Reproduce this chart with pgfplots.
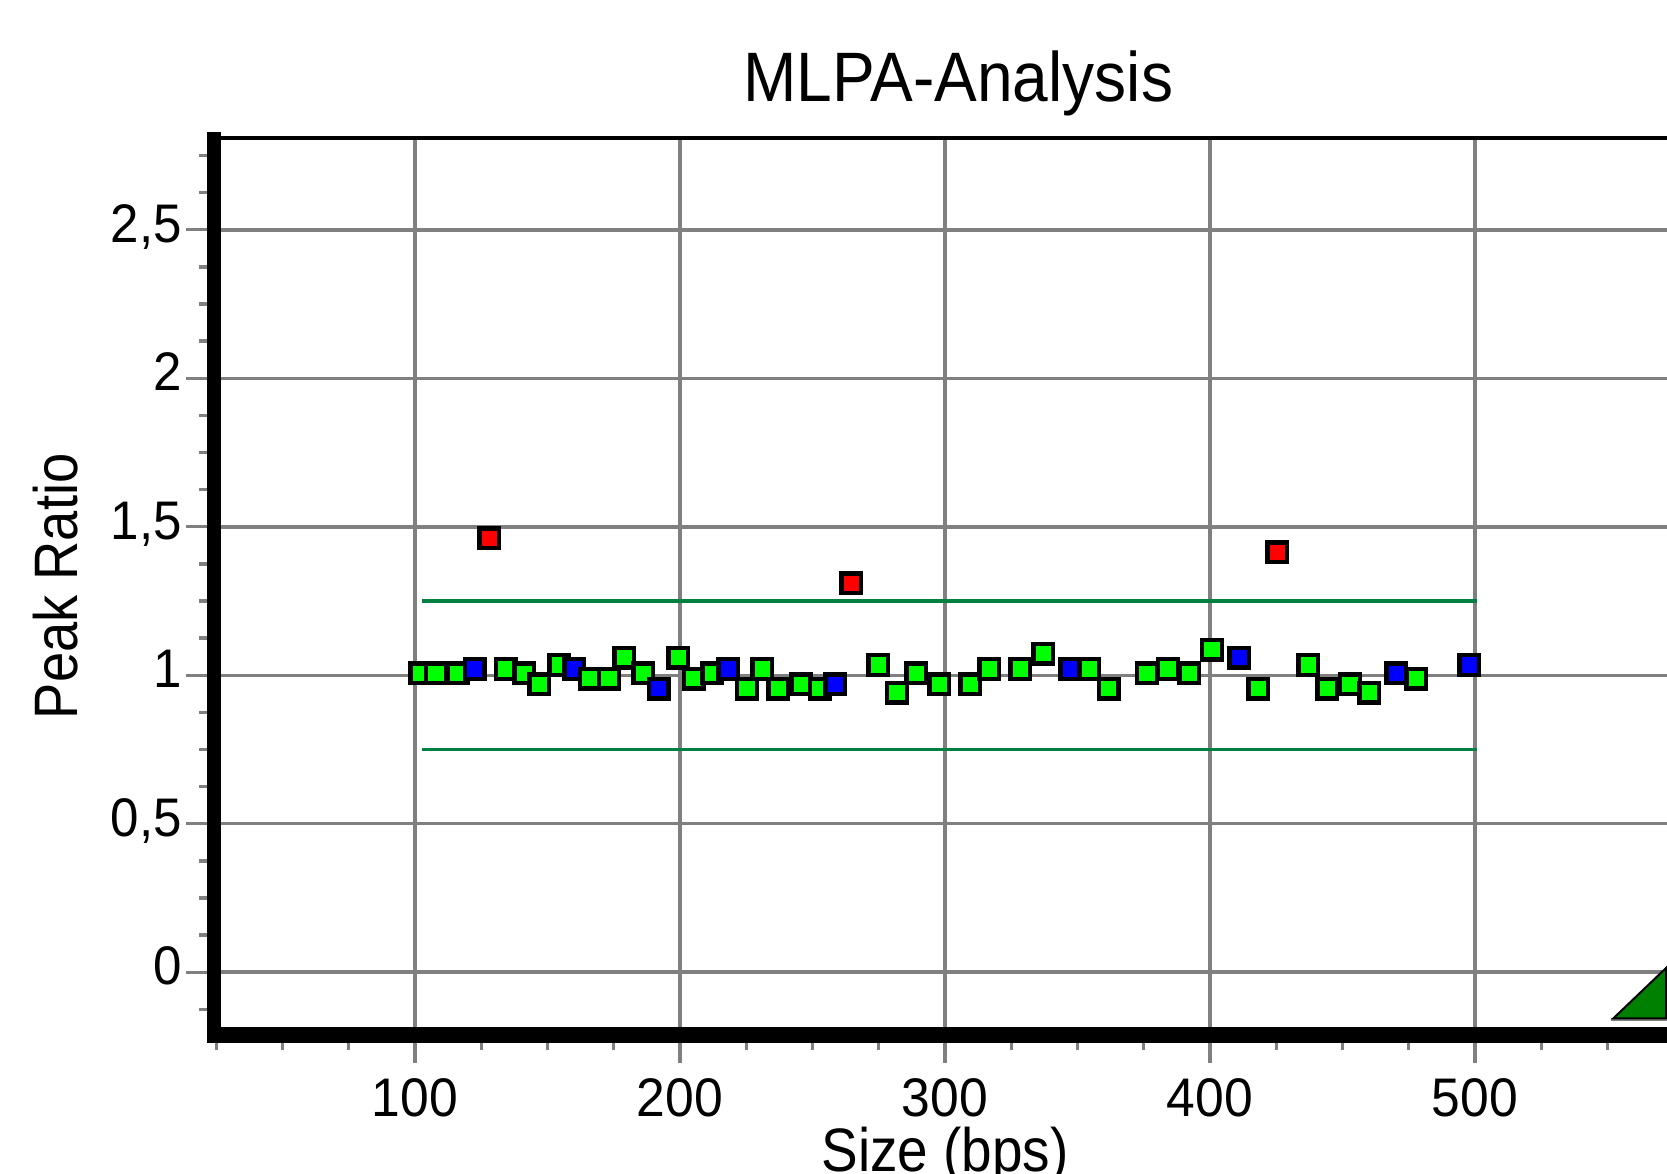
\documentclass[border=0pt]{standalone}
\usepackage{fontspec}
\setmainfont{Liberation Sans}
\usepackage{graphicx}
\usepackage{pgfplots}
\pgfplotsset{compat=1.18}
\definecolor{mgreen}{RGB}{0,255,0}
\definecolor{mblue}{RGB}{0,0,255}
\definecolor{mred}{RGB}{255,0,0}
\definecolor{thr}{RGB}{0,128,64}
\definecolor{tri}{RGB}{0,128,0}
\begin{document}
\begin{tikzpicture}[x=1pt,y=1pt]
\begin{axis}[
  name=ax, at={(64.2pt,41.4pt)}, anchor=south west,
  scale only axis, width=439.8pt, height=269.1pt,
  xmin=24.15, xmax=577.36, ymin=-0.2114, ymax=2.809,
  axis line style={draw=none},
  xtick={100,200,300,400,500},
  ytick={0,0.5,1,1.5,2,2.5},
  minor xtick={25,50,75,125,150,175,225,250,275,325,350,375,425,450,475,525,550,575},
  minor ytick={-0.125,0.125,0.25,0.375,0.625,0.75,0.875,1.125,1.25,1.375,1.625,1.75,1.875,2.125,2.25,2.375,2.625,2.75},
  tick pos=left, tick align=outside,
  major tick length=8.3pt, minor tick length=4.6pt,
  tick style={gray, line width=1pt},
  grid=major, major grid style={gray, line width=1.05pt},
  xticklabel={\scalebox{0.95}[1]{\pgfmathprintnumber[assume math mode=true]{\tick}}},
  yticklabel={\scalebox{0.94}[1]{\pgfmathprintnumber[assume math mode=true,use comma]{\tick}}},
  ticklabel style={font=\fontsize{16.3}{18}\selectfont, inner sep=0pt},
  xticklabel style={anchor=base, yshift=-16.0pt},
  yticklabel style={anchor=base east, xshift=-1.1pt, yshift=-3.75pt},
  clip=false,
]
\addplot[thr, line width=1pt, forget plot] coordinates {(102.6,1.25) (500.8,1.25)};
\addplot[thr, line width=1pt, forget plot] coordinates {(102.6,0.75) (500.8,0.75)};
\addplot[scatter, only marks, mark=square*, mark size=2.95pt,
  point meta=explicit symbolic,
  scatter/classes={
    g={mark=square*, draw=black, fill=mgreen, line width=1.3pt},
    b={mark=square*, draw=black, fill=mblue, line width=1.3pt},
    r={mark=square*, draw=black, fill=mred, line width=1.3pt}}]
table[meta=c] {
x y c
102.0 1.007 g
107.9 1.007 g
116.1 1.007 g
122.5 1.021 b
128.0 1.461 r
134.2 1.021 g
141.3 1.007 g
146.9 0.969 g
154.5 1.035 g
160.1 1.021 b
166.0 0.989 g
173.2 0.989 g
179.0 1.059 g
186.2 1.007 g
192.0 0.955 b
199.4 1.059 g
205.2 0.989 g
212.2 1.007 g
218.2 1.021 b
225.3 0.955 g
231.1 1.021 g
237.1 0.955 g
245.8 0.969 g
252.8 0.955 g
258.6 0.969 b
264.6 1.310 r
274.8 1.035 g
281.9 0.941 g
289.2 1.007 g
297.9 0.969 g
309.6 0.969 g
316.7 1.021 g
328.4 1.021 g
337.1 1.073 g
347.3 1.021 b
354.5 1.021 g
361.8 0.955 g
376.2 1.007 g
384.2 1.021 g
392.2 1.007 g
400.8 1.086 g
411.1 1.059 b
418.2 0.955 g
425.4 1.414 r
437.1 1.035 g
444.3 0.955 g
452.8 0.969 g
460.1 0.941 g
470.3 1.007 b
477.8 0.989 g
497.9 1.035 b
};
\end{axis}
\draw[line width=4.2pt] ([yshift=-2.4pt]ax.south west) -- ([yshift=1.8pt]ax.north west);
\draw[line width=4.8pt] ([xshift=-2.1pt]ax.south west) -- (ax.south east);
\draw[line width=1.2pt] (ax.north west) -- (ax.north east);
\draw[gray, line width=1pt] (483.3,46.0) -- (500.1,46.0);
\filldraw[fill=tri, draw=black, line width=0.6pt] (484.0,46.4) -- (499.8,46.4) -- (499.8,61.5) -- cycle;
\node[anchor=base, inner sep=0pt, font=\fontsize{21}{24}\selectfont] at (287.5,321.4) {\scalebox{0.915}[1]{MLPA-Analysis}};
\node[anchor=base, inner sep=0pt, rotate=90, font=\fontsize{18.4}{20}\selectfont] at (23.1,176.0) {\scalebox{0.885}[1]{Peak Ratio}};
\node[anchor=base, inner sep=0pt, font=\fontsize{18.4}{20}\selectfont] at (283.5,0.6) {\scalebox{0.895}[1]{Size (bps)}};
\pgfresetboundingbox
\path[use as bounding box] (0,0) rectangle (500.1,351.9);
\end{tikzpicture}
\end{document}
